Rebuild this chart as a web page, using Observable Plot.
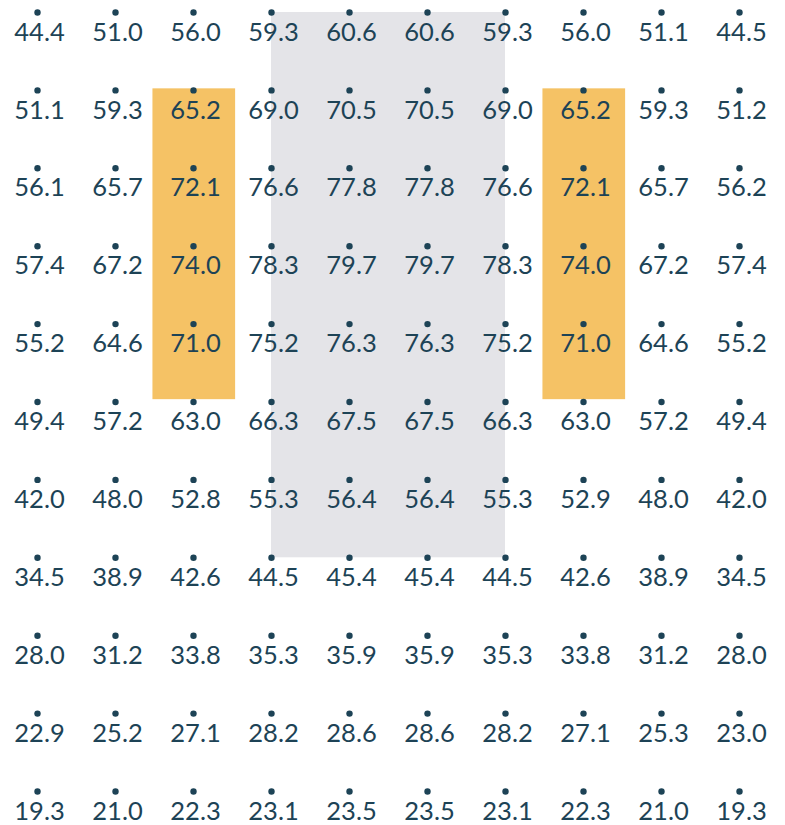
<!DOCTYPE html>
<html>
<head>
<meta charset="utf-8">
<script src="https://cdn.jsdelivr.net/npm/d3@7"></script>
<script src="https://cdn.jsdelivr.net/npm/@observablehq/plot@0.6"></script>
<style>
  html, body { margin: 0; padding: 0; background: #ffffff; }
  #chart svg { display: block; }
</style>
</head>
<body>
<div id="chart"></div>
<script>
// Grid values, row by row (top to bottom), columns left to right
const values = [
  [44.4, 51.0, 56.0, 59.3, 60.6, 60.6, 59.3, 56.0, 51.1, 44.5],
  [51.1, 59.3, 65.2, 69.0, 70.5, 70.5, 69.0, 65.2, 59.3, 51.2],
  [56.1, 65.7, 72.1, 76.6, 77.8, 77.8, 76.6, 72.1, 65.7, 56.2],
  [57.4, 67.2, 74.0, 78.3, 79.7, 79.7, 78.3, 74.0, 67.2, 57.4],
  [55.2, 64.6, 71.0, 75.2, 76.3, 76.3, 75.2, 71.0, 64.6, 55.2],
  [49.4, 57.2, 63.0, 66.3, 67.5, 67.5, 66.3, 63.0, 57.2, 49.4],
  [42.0, 48.0, 52.8, 55.3, 56.4, 56.4, 55.3, 52.9, 48.0, 42.0],
  [34.5, 38.9, 42.6, 44.5, 45.4, 45.4, 44.5, 42.6, 38.9, 34.5],
  [28.0, 31.2, 33.8, 35.3, 35.9, 35.9, 35.3, 33.8, 31.2, 28.0],
  [22.9, 25.2, 27.1, 28.2, 28.6, 28.6, 28.2, 27.1, 25.3, 23.0],
  [19.3, 21.0, 22.3, 23.1, 23.5, 23.5, 23.1, 22.3, 21.0, 19.3]
];

// Highlighted regions in grid coordinates (column / row indices)
const grayRegion = [{x1: 3, x2: 6, y1: 0, y2: 7}];
const orangeRegions = [
  {x1: 1.48, x2: 2.54, y1: 0.98, y2: 4.97},
  {x1: 6.48, x2: 7.54, y1: 0.98, y2: 4.97}
];

const cells = values.flatMap((row, r) => row.map((v, c) => ({col: c, row: r, value: v})));

const ink = "#1d4356";

const chart = Plot.plot({
  width: 785,
  height: 825,
  marginLeft: 37,
  marginRight: 46,
  marginTop: 12,
  marginBottom: 34,
  x: {domain: [0, 9], axis: null},
  y: {domain: [0, 10], reverse: true, axis: null},
  style: {background: "#ffffff"},
  marks: [
    Plot.rect(grayRegion, {x1: "x1", x2: "x2", y1: "y1", y2: "y2", fill: "#e4e4e8"}),
    Plot.rect(orangeRegions, {x1: "x1", x2: "x2", y1: "y1", y2: "y2", fill: "#f5c265"}),
    Plot.text(cells, {
      x: "col", y: "row",
      text: d => d.value.toFixed(1),
      dy: 20, dx: 2,
      fill: ink,
      fontSize: 25.5,
      fontFamily: "Lato",
      fontWeight: 400,
      textAnchor: "middle"
    }),
    Plot.dot(cells, {x: "col", y: "row", r: 3.2, fill: ink, stroke: "none"})
  ]
});

document.getElementById("chart").appendChild(chart);
</script>
</body>
</html>
